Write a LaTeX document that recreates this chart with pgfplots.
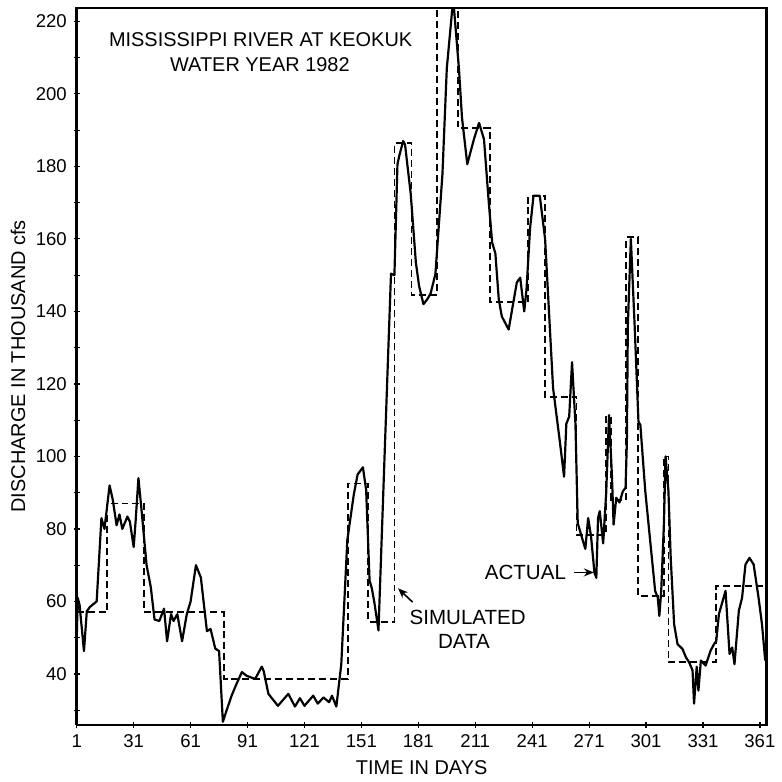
\documentclass[border=0pt]{standalone}
\usepackage{fontspec}
\setmainfont{Liberation Sans}
\usepackage{pgfplots}
\pgfplotsset{compat=1.18}
\usetikzlibrary{arrows.meta}
\begin{document}
\begin{tikzpicture}
\begin{axis}[
 width=346pt, height=359.5pt, scale only axis,
 xmin=1, xmax=364.5, ymin=26, ymax=223.7,
 xtick={1,31,...,361}, ytick={40,60,...,220}, minor ytick={30,50,...,210},
 tick align=center, xtick pos=bottom, ytick pos=left, major tick length=3pt, minor tick length=3pt,
 every tick/.style={black, line width=0.6pt},
 axis line style={black, line width=1pt},
 tick label style={font=\fontsize{9.3}{11}\selectfont},
 /pgf/number format/assume math mode=true,
 xlabel={TIME IN DAYS}, ylabel={DISCHARGE IN THOUSAND cfs},
 label style={font=\fontsize{10}{12}\selectfont},
 xlabel style={at={(axis description cs:0.5,-0.0605)}, anchor=center},
 ylabel style={at={(axis description cs:-0.085,0.5)}, anchor=center},
 clip=false,
]
% simulated (step) data
\addplot[const plot, black, line width=0.9pt, dash pattern=on 3.5pt off 2pt] coordinates {
(1,57) (17,87) (36.6,57) (78.5,38.7) (144,92.5) (154.6,54.4) (168.4,186.4)
(177.4,144.5) (191,223.7) (202,190.5) (218.8,142.5) (239,171.9) (247.8,116.4)
(264.3,78.3) (280,111) (282.5,88) (290.5,160.5) (296.6,61.5) (310.4,100)
(312.8,43.2) (337.7,64.3) (364.5,64.3)
};
% actual data
\addplot[black, line width=1.1pt, line join=round] coordinates {
(1,50) (1.5,61) (2.5,59) (4.8,46.3) (6.3,57.3) (8,58.5) (11.5,60) (14,83) (15.6,80)
(18.3,92) (20,88) (22,81) (23.5,84) (25,80) (27.7,83.4) (29,82) (31,75) (32,82)
(33.5,94) (35,86) (37.8,70) (40,64) (42,55) (44.5,54.6) (47,58) (48.6,49) (50.7,56.5)
(52,54.6) (54,56.5) (56.5,49) (59,56.5) (61,60) (63.8,70) (66.4,66.6) (69.6,51.8)
(71.5,52.4) (74,47) (76,46.3) (78,26.8) (80,30) (82.6,34) (85,37) (88,40.5)
(90.5,39.5) (95,38.6) (98.5,42) (99.5,40.8) (102,34.5) (107,31.2) (112.5,34.5)
(116,31) (118.6,33.3) (121,31.2) (125.6,34) (128,31.8) (131,33.5) (134,32.2)
(135.5,34) (137.8,31) (140.4,42.7) (143.6,77) (147,89.5) (149,95) (151.8,97)
(153.5,90.8) (155.3,65.8) (156.5,63.6) (157.9,59.5) (160,52) (163,97) (166.6,150.4)
(168.4,150) (170,180.6) (171,183) (173,187) (174,186) (177,172.4) (179.7,153.5)
(181.4,147) (183.7,142) (185.8,143.4) (187.5,145) (190,150.3) (193.7,177.8)
(196,207) (198.9,223.5) (199.8,223.5) (202.4,207) (204,193.5) (206.8,180.6)
(210.3,187.5) (213,192) (215.6,187.5) (218,170.9) (219.9,159) (221.6,156)
(223.4,143.3) (225,138.6) (228.6,135) (232.9,148) (234.7,149.3) (236.8,140)
(238,146) (239.9,163) (241.7,171.9) (245,171.9) (247.8,160) (250.5,133.6)
(252,118.9) (255.6,104) (257.8,94.4) (259,109) (260.5,111) (262,126) (263.8,109)
(265,81.6) (267,78) (269,74.5) (270.5,83) (272,78) (273.8,68) (274.8,66.5)
(275.7,83) (276.6,84.9) (278.4,76) (280,90) (281.5,111.4) (283,95) (283.9,81.2)
(285.3,88.6) (287,87.3) (288.8,90.4) (290.2,91.3) (290.9,104) (291.4,136) (293,160)
(295,136) (297,109.6) (298,108.7) (300.6,90.4) (303.2,76.6) (305.8,62.9) (307.2,61)
(308,56) (309,62.9) (310.4,81.2) (311.3,100) (312.8,90.4) (314,72) (315.8,53.7)
(317.6,48.2) (320.2,46.9) (322,44.6) (323.7,43.2) (325.5,41) (326.3,31.8) (327.7,42)
(328.6,35.4) (329.9,43.7) (332.4,42.3) (335,46.4) (336.8,48.2) (338,49.1)
(339.4,56.5) (342.9,62.9) (345,45.5) (346.4,47.3) (347.6,42.7) (349.9,57.4)
(351.6,61) (353.4,70.2) (355.5,72) (357.7,70.2) (360.3,61) (362.1,53.7) (363.8,43.7)
};
% frame
\draw[line width=1.3pt, black] (rel axis cs:0,0) -- (rel axis cs:0,1) -- (rel axis cs:1,1) -- (rel axis cs:1,0);
% annotations
\node[font=\fontsize{10}{12}\selectfont] at (axis cs:97.9,215) {MISSISSIPPI RIVER AT KEOKUK};
\node[font=\fontsize{10}{12}\selectfont] at (axis cs:97.5,208) {WATER YEAR 1982};
\node[font=\fontsize{10.3}{12}\selectfont] at (axis cs:207,55.7) {SIMULATED};
\node[font=\fontsize{10.3}{12}\selectfont] at (axis cs:205,49) {DATA};
\draw[-{Stealth[length=5pt,width=4pt]}, line width=0.8pt] (axis cs:178,59.8) -- (axis cs:170.3,63.6);
\node[font=\fontsize{10.3}{12}\selectfont, anchor=east] at (axis cs:262.5,68) {ACTUAL};
\draw[-{Stealth[length=5pt,width=4pt]}, line width=0.8pt] (axis cs:263,68) -- (axis cs:273.5,68);
% page extent
\path ([shift={(-38.5pt,-27.5pt)}]rel axis cs:0,0) rectangle ([shift={(5pt,4pt)}]rel axis cs:1,1);
\end{axis}
\end{tikzpicture}
\end{document}
